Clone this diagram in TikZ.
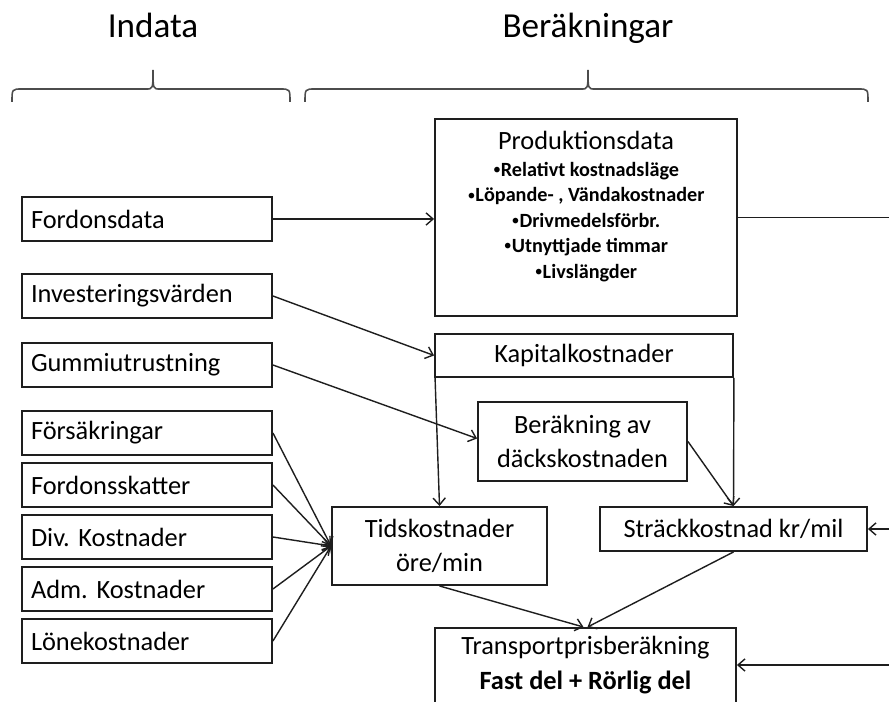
\documentclass[tikz,border=0pt]{standalone}
\usepackage{fontspec}
\setmainfont{Carlito}
\frenchspacing
\usetikzlibrary{positioning,arrows.meta}
\definecolor{frame}{HTML}{1E1E1E}
\newcommand{\listdot}{{\mdseries\fontsize{9}{9}\selectfont\raisebox{0.12em}{•}}}

\begin{document}
\begin{tikzpicture}[x=0.02cm,y=-0.02cm,
  box/.style={draw=frame,line width=1.1pt,fill=white,font=\fontsize{15}{19}\selectfont,align=center,inner sep=0pt},
  inbox/.style={box,minimum width=5cm,minimum height=0.88cm,text width=4.64cm,align=left},
  link/.style={draw=frame,line width=0.8pt,-{Straight Barb[length=4pt,width=7pt]}},
  bracket/.style={draw=black!70,line width=0.9pt},
  head/.style={font=\fontsize{20}{24}\selectfont,anchor=base}]
\useasboundingbox (0,0) rectangle (889,702);
\clip (0,0) rectangle (889,702);

% rubriker
\node[head] (indata) at (153,38) {Indata};
\node[head] (berakn) at (588,38) {Beräkningar};
\draw[bracket] (12,102) .. controls (12,89) .. (22,89) -- (146,89)
  .. controls (153,89) .. (153,70) .. controls (153,89) .. (160,89) -- (280,89)
  .. controls (290,89) .. (290,102);
\draw[bracket] (305,102) .. controls (305,89) .. (315,89) -- (581,89)
  .. controls (588,89) .. (588,70) .. controls (588,89) .. (595,89) -- (858,89)
  .. controls (868,89) .. (868,102);

% indata
\node[inbox] (fordon) at (147,219) {Fordonsdata};
\node[inbox] (invest) at (147,296) {Investeringsvärden};
\node[inbox] (gummi) at (147,365) {Gummiutrustning};
\node[inbox] (forsak) at (147,433) {Försäkringar};
\node[inbox] (skatt) at (147,485) {Fordonsskatter};
\node[inbox] (div) at (147,537) {Div. Kostnader};
\node[inbox] (adm) at (147,589) {Adm. Kostnader};
\node[inbox] (lon) at (147,641) {Lönekostnader};

% berakningar
\node[box,minimum width=6.04cm,minimum height=3.94cm] (prod) at (586,217.5) {};
\node[font=\fontsize{15}{19}\selectfont] (prodhead) at (586,140) {Produktionsdata};
\node[font=\fontsize{11.5}{14.5}\selectfont\bfseries,align=center] (prodlist) at (586,222)
  {\listdot Relativt kostnadsläge\\\listdot Löpande- , Vändakostnader\\\listdot Drivmedelsförbr.\\\listdot Utnyttjade timmar\\\listdot Livslängder};
\node[box,minimum width=5.96cm,minimum height=0.86cm] (kap) at (584,355.5) {Kapitalkostnader};
\node[box,minimum width=4.18cm,minimum height=1.58cm] (dack) at (582.5,441.5) {Beräkning av\\däckskostnaden};
\node[box,minimum width=4.3cm,minimum height=1.56cm] (tids) at (439.5,546) {Tidskostnader\\öre/min};
\node[box,minimum width=5.34cm,minimum height=0.88cm] (strack) at (733.5,529) {Sträckkostnad kr/mil};
\node[box,minimum width=6.02cm,minimum height=2.2cm] (trans) at (585.5,683) {};
\node[font=\fontsize{15}{20}\selectfont,align=center] (transtxt) at (585.5,665)
  {Transportprisberäkning\\\textbf{Fast del + Rörlig del}};

% kopplingar
\coordinate (r1) at (889,217.5);
\coordinate (r2) at (889,529);
\coordinate (r3) at (889,665);
\draw[link] (fordon.east) -- (fordon.east -| prod.west);
\draw[draw=frame,line width=0.8pt] (prod.east) -- (r1);
\draw[link] (invest.east) -- (kap.west);
\draw[link] (gummi.east) -- ([yshift=0.06cm]dack.west);
\draw[link] ([xshift=0.02cm]kap.south west) -- (tids.north);
\draw[link] (kap.south east) -- (strack.north);
\draw[link] (dack.east) -- (strack.north);
\foreach \n in {forsak,skatt,div,adm,lon}
  \draw[link] (\n.east) -- (tids.west);
\draw[link] (r2) -- (strack.east);
\draw[link] (tids.south) -- ([xshift=-0.04cm]trans.north);
\draw[link] (strack.south) -- ([xshift=0.04cm]trans.north);
\draw[link] (r3) -- (r3 -| trans.east);
\end{tikzpicture}
\end{document}
